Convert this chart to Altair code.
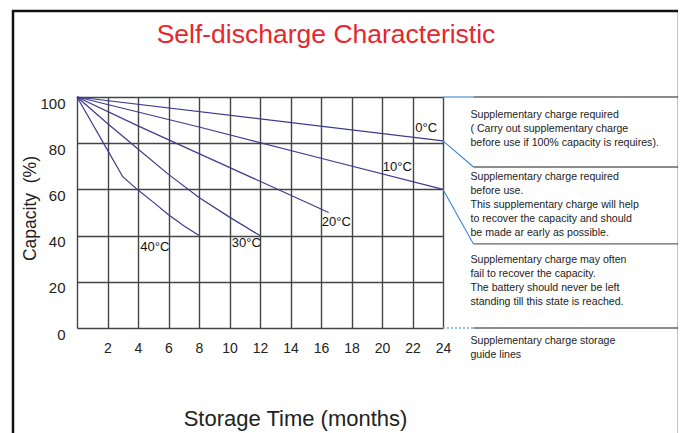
import altair as alt
import pandas as pd

# ---- data ----
months_0 = [0, 24]
cap_0 = [100, 81]
months_10 = [0, 8, 16, 24]
cap_10 = [100, 87, 73.5, 60]
months_20 = [0, 4, 8, 12, 16.5]
cap_20 = [100, 87.5, 75.5, 63.5, 50]
months_30 = [0, 2, 4, 6, 8, 10, 12]
cap_30 = [100, 88.5, 77.5, 66.5, 56.5, 48, 40]
months_40 = [0, 1, 2, 3, 4, 5, 6, 7, 8]
cap_40 = [100, 88.5, 77, 65.5, 59.7, 54.5, 49, 44.3, 40]

curve_labels = ["0°C", "10°C", "20°C", "30°C", "40°C"]
label_month = [22.9, 21.0, 17.0, 11.1, 5.1]
label_cap = [86.6, 69.7, 45.9, 36.8, 35.0]

x_ticks = [0, 2, 4, 6, 8, 10, 12, 14, 16, 18, 20, 22, 24]
y_ticks = [0, 20, 40, 60, 80, 100]

note_lines = [
    "Supplementary charge required",
    "( Carry out supplementary charge",
    "before use if 100% capacity is requires).",
    "Supplementary charge required",
    "before use.",
    "This supplementary charge will help",
    "to recover the capacity and should",
    "be made ar early as possible.",
    "Supplementary charge may often",
    "fail to recover the capacity.",
    "The battery should never be left",
    "standing till this state is reached.",
    "Supplementary charge storage",
    "guide lines",
]
note_cap = [92.2, 86.1, 80.1, 65.4, 59.3, 53.2, 47.2, 41.1,
            29.4, 23.4, 17.3, 11.3, -5.6, -11.7]
note_month = 25.8

# separators of the note column (month start, month end, capacity)
sep_cap = [100, 69.7, 36.4, 0]
sep_start = 26
sep_end = 39.5
# blue guide connectors (from curve end to note separators)
guide_from = [100, 81, 60]
guide_to = [100, 69.7, 36.4]

# ---- tables ----
rows = []
for t, ms, cs in [("0", months_0, cap_0), ("10", months_10, cap_10),
                  ("20", months_20, cap_20), ("30", months_30, cap_30),
                  ("40", months_40, cap_40)]:
    for m, c in zip(ms, cs):
        rows.append({"temp": t, "month": m, "capacity": c})
curves = pd.DataFrame(rows)
labels_df = pd.DataFrame({"label": curve_labels, "month": label_month, "capacity": label_cap})
notes_df = pd.DataFrame({"text": note_lines, "capacity": note_cap, "month": note_month})
sep_df = pd.DataFrame({"capacity": sep_cap, "month": sep_start, "month2": sep_end})
guide_df = pd.DataFrame({"month": 24, "month2": sep_start,
                         "capacity": guide_from, "capacity2": guide_to})
dot_df = pd.DataFrame({"month": [24], "month2": [sep_start], "capacity": [0]})
one = pd.DataFrame({"a": [0]})

FONT = "Liberation Sans"
xscale = alt.Scale(domain=[0, 24], nice=False, zero=False)
yscale = alt.Scale(domain=[0, 100], nice=False, zero=False)

x_axis = alt.Axis(values=x_ticks, tickCount=20,
                  labelExpr="datum.value == 0 ? '' : datum.label",
                  labelOverlap=False, labelFlush=False,
                  grid=True, gridColor="#444444", gridWidth=1.4, ticks=False, domain=False,
                  labelFont=FONT, labelFontSize=14, labelColor="#222222", labelPadding=13,
                  title="Storage Time (months)", titleFont=FONT, titleFontSize=22,
                  titleFontWeight="normal", titleColor="#222222",
                  titleX=218, titleY=90, titleBaseline="middle", titleAlign="center")
y_axis = alt.Axis(values=y_ticks, tickCount=10, labelOverlap=False, labelFlush=False,
                  grid=True, gridColor="#444444", gridWidth=1.4,
                  ticks=False, domain=False,
                  labelFont=FONT, labelFontSize=15, labelColor="#222222", labelPadding=12,
                  labelBaseline="middle", labelOffset=6,
                  title="Capacity\u00a0\u00a0(%)", titleFont=FONT, titleFontSize=17.5,
                  titleFontWeight="normal", titleColor="#222222",
                  titleX=-47, titleY=111, titleBaseline="middle", titleAlign="center",
                  titleAngle=270)

lines = alt.Chart(curves).mark_line(color="#3d3b8e", strokeWidth=1.2).encode(
    x=alt.X("month:Q", scale=xscale, axis=x_axis),
    y=alt.Y("capacity:Q", scale=yscale, axis=y_axis),
    detail="temp:N",
)

lbl = alt.Chart(labels_df).mark_text(font=FONT, fontSize=13, color="#111111",
                                     baseline="middle", align="center").encode(
    x="month:Q", y="capacity:Q", text="label:N")

notes = alt.Chart(notes_df).mark_text(font=FONT, fontSize=10.6, color="#222222",
                                      align="left", baseline="middle").encode(
    x="month:Q", y="capacity:Q", text="text:N")

seps = alt.Chart(sep_df).mark_rule(color="#666666", strokeWidth=1.4).encode(
    x="month:Q", x2="month2:Q", y="capacity:Q")

guides = alt.Chart(guide_df).mark_rule(color="#3a87d0", strokeWidth=1.1).encode(
    x="month:Q", x2="month2:Q", y="capacity:Q", y2="capacity2:Q")

dots = alt.Chart(dot_df).mark_rule(color="#6aaee8", strokeWidth=1.5, strokeDash=[2, 2]).encode(
    x="month:Q", x2="month2:Q", y="capacity:Q")

frame_top = alt.Chart(one).mark_rule(color="#111111", strokeWidth=2.5).encode(
    x=alt.value(-65), x2=alt.value(603), y=alt.value(-86))
frame_left = alt.Chart(one).mark_rule(color="#111111", strokeWidth=2.5).encode(
    x=alt.value(-64), y=alt.value(-87), y2=alt.value(340))
frame_right = alt.Chart(one).mark_rule(color="#111111", strokeWidth=2.5).encode(
    x=alt.value(602), y=alt.value(-87), y2=alt.value(340))

chart = alt.layer(
    lines, lbl, notes, seps, guides, dots, frame_top, frame_left, frame_right
).properties(
    width=366, height=231,
    title=alt.TitleParams("Self-discharge Characteristic", color="#e8262d",
                          font=FONT, fontSize=26.5, fontWeight="normal",
                          anchor="middle", frame="group", dx=66, offset=-40),
    autosize=alt.AutoSizeParams(type="none"),
    padding={"left": 69, "top": 89, "right": 235, "bottom": 105},
).configure_view(stroke=None)

chart.save("out.html", embed_options={"renderer": "svg", "actions": False})
